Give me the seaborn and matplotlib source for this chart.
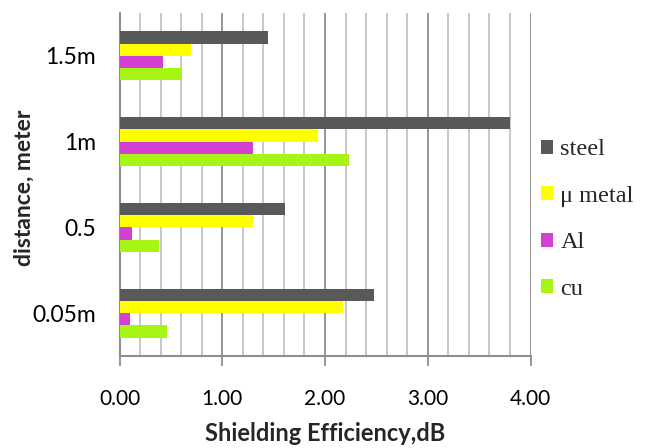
import matplotlib
matplotlib.use("Agg")
import matplotlib.pyplot as plt
from matplotlib.ticker import MultipleLocator, FormatStrFormatter
import seaborn as sns
import pandas as pd

# Measurement data: shielding efficiency (dB) per distance and material
distances = ["1.5m", "1m", "0.5", "0.05m"]
materials = ["steel", "\u03bc metal", "Al", "cu"]
steel = [1.45, 3.80, 1.61, 2.48]
mu_metal = [0.70, 1.93, 1.30, 2.18]
aluminium = [0.42, 1.30, 0.12, 0.10]
copper = [0.61, 2.23, 0.38, 0.46]

colors = ["#595959", "#FFFF00", "#D43FD4", "#A6F514"]

rows = []
for mat, vals in zip(materials, [steel, mu_metal, aluminium, copper]):
    for d, v in zip(distances, vals):
        rows.append({"distance": d, "material": mat, "se": v})
df = pd.DataFrame(rows)

sns.set_style("white")
plt.rcParams["font.family"] = ["Lato", "DejaVu Sans"]

W, H = 651, 448
fig = plt.figure(figsize=(W / 100, H / 100), dpi=100)
ax = fig.add_axes([119.5 / W, 1 - 356 / H, (530.5 - 119.5) / W, (356 - 13) / H])

sns.barplot(data=df, x="se", y="distance", hue="material", orient="h",
            order=distances, hue_order=materials, palette=colors,
            saturation=1, width=0.57, linewidth=0, ax=ax, zorder=3)

ax.set_xlim(0, 4)
ax.xaxis.set_major_locator(MultipleLocator(1.0))
ax.xaxis.set_minor_locator(MultipleLocator(0.2))
ax.xaxis.set_major_formatter(FormatStrFormatter("%.2f"))
ax.grid(False)
ax.grid(axis="x", which="minor", color="#c4c4c4", linewidth=1.3, zorder=0)
ax.grid(axis="x", which="major", color="#8e8e8e", linewidth=1.3, zorder=0)
ax.set_axisbelow(True)

for side in ["top", "right"]:
    ax.spines[side].set_visible(False)
for side in ["left", "bottom"]:
    ax.spines[side].set_color("#8e8e8e")
    ax.spines[side].set_linewidth(1.5)

ax.tick_params(axis="x", which="major", direction="out", length=7, width=1.3,
               color="#8e8e8e", pad=17, labelsize=15, labelcolor="black", bottom=True)
ax.tick_params(axis="x", which="minor", length=0)
ax.tick_params(axis="y", length=0, pad=17, labelsize=16.5, labelcolor="black")

ax.set_xlabel("Shielding Efficiency,dB", fontsize=17, fontweight="bold", labelpad=9)
ax.set_ylabel("distance, meter", fontsize=16.5, fontweight="bold")
ax.yaxis.set_label_coords((35 - 119.5) / 411, 0.49)

handles, labels = ax.get_legend_handles_labels()
ax.legend(handles, labels, loc="center left",
          bbox_to_anchor=(541 / W, 1 - 219.5 / H), bbox_transform=fig.transFigure,
          frameon=False, borderpad=0, borderaxespad=0,
          handlelength=0.5, handleheight=0.5, handletextpad=0.3,
          labelspacing=1.05, prop={"family": "Liberation Serif", "size": 17.5})

fig.savefig("out.png", dpi=100)
